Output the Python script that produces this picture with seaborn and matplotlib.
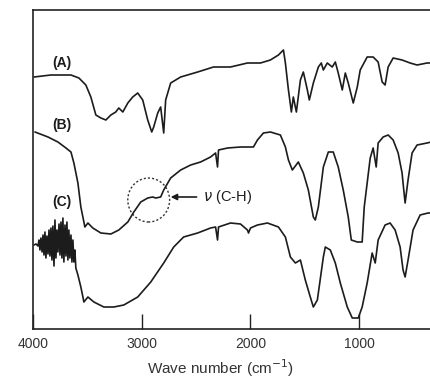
import numpy as np
import pandas as pd
import matplotlib
matplotlib.use("Agg")
import matplotlib.pyplot as plt
from matplotlib.patches import Ellipse
import seaborn as sns

# wave numbers (cm-1) and relative transmittance
wn_a = [3991, 3835, 3651, 3578, 3514, 3468, 3422, 3376, 3330, 3284,
        3239, 3211, 3174, 3128, 3083, 3037, 2991, 2945, 2908, 2890,
        2853, 2826, 2798, 2780, 2734, 2642, 2486, 2340, 2184, 2028,
        1908, 1817, 1743, 1697, 1679, 1651, 1624, 1606, 1578, 1541,
        1514, 1477, 1459, 1422, 1376, 1349, 1330, 1294, 1248, 1220,
        1193, 1156, 1128, 1101, 1055, 1018, 991, 927, 872, 826,
        789, 762, 734, 688, 606, 532, 468, 376, 340]
t_a = [252, 254, 254, 251, 244, 232, 214, 211, 209, 214,
       217, 221, 217, 226, 232, 236, 229, 209, 197, 202,
       216, 222, 196, 229, 246, 252, 257, 262, 262, 266,
       266, 269, 274, 279, 266, 239, 217, 232, 217, 249,
       257, 239, 229, 246, 262, 266, 259, 266, 262, 267,
       256, 239, 256, 246, 226, 242, 259, 272, 272, 267,
       247, 244, 262, 271, 269, 266, 264, 266, 266]

wn_b = [3982, 3862, 3771, 3697, 3651, 3624, 3587, 3560, 3532, 3523,
        3495, 3450, 3376, 3284, 3211, 3128, 3073, 3009, 2945, 2899,
        2872, 2826, 2798, 2734, 2642, 2550, 2459, 2367, 2321, 2303,
        2294, 2211, 2092, 1973, 1936, 1881, 1817, 1725, 1679, 1651,
        1615, 1560, 1514, 1468, 1422, 1404, 1376, 1330, 1284, 1239,
        1193, 1147, 1101, 1073, 1018, 973, 954, 927, 899, 872,
        844, 826, 780, 734, 688, 642, 606, 597, 578, 551,
        514, 468, 376, 340]
t_b = [197, 192, 187, 181, 177, 166, 146, 122, 107, 102,
       106, 101, 96, 95, 99, 107, 117, 127, 131, 132,
       131, 132, 139, 151, 159, 164, 167, 172, 176, 162,
       179, 181, 182, 182, 189, 196, 197, 194, 182, 169,
       159, 167, 156, 139, 112, 109, 122, 162, 177, 177,
       162, 139, 112, 89, 87, 87, 122, 146, 171, 181,
       162, 186, 192, 194, 189, 176, 156, 146, 126, 149,
       176, 184, 186, 187]

wn_c = [3991, 3972, 3954, 3945, 3936, 3927, 3917, 3908, 3899, 3890,
        3881, 3872, 3862, 3853, 3844, 3835, 3826, 3817, 3807, 3798,
        3789, 3780, 3771, 3761, 3752, 3743, 3734, 3725, 3716, 3706,
        3697, 3688, 3679, 3670, 3661, 3651, 3642, 3633, 3624, 3615,
        3606, 3587, 3560, 3541, 3532, 3495, 3440, 3349, 3257, 3165,
        3037, 2917, 2798, 2706, 2615, 2486, 2367, 2321, 2303, 2294,
        2184, 2092, 2028, 2018, 2000, 1936, 1844, 1743, 1679, 1633,
        1587, 1541, 1496, 1450, 1422, 1385, 1330, 1312, 1266, 1220,
        1174, 1110, 1064, 1009, 973, 927, 881, 853, 826, 762,
        716, 670, 624, 597, 578, 551, 505, 440, 367, 340]
t_c = [84, 85, 83, 89, 79, 91, 77, 94, 74, 97,
       71, 93, 75, 99, 73, 101, 69, 103, 63, 109,
       71, 99, 77, 105, 74, 107, 71, 111, 67, 104,
       73, 107, 69, 99, 71, 94, 67, 89, 67, 79,
       61, 54, 42, 32, 27, 32, 27, 22, 22, 24,
       32, 47, 66, 82, 92, 96, 101, 102, 89, 102,
       106, 105, 99, 96, 101, 104, 106, 102, 92, 72,
       66, 69, 49, 32, 22, 29, 72, 82, 79, 66,
       46, 22, 11, 11, 22, 46, 76, 66, 89, 104,
       106, 99, 82, 59, 52, 69, 99, 114, 116, 116]

labels = ["(A)", "(B)", "(C)"]
label_pos = [(3734, 266), (3734, 204), (3734, 127)]
ticks = [4000, 3000, 2000, 1000]

df = pd.concat([
    pd.DataFrame({"wn": wn_a, "t": t_a, "s": "A"}),
    pd.DataFrame({"wn": wn_b, "t": t_b, "s": "B"}),
    pd.DataFrame({"wn": wn_c, "t": t_c, "s": "C"}),
])

sns.set_theme(style="white")
plt.rcParams["font.family"] = ["Liberation Sans", "DejaVu Sans"]

fig = plt.figure(figsize=(4.31, 3.79), dpi=100)
ax = fig.add_axes([33 / 431, 50 / 379, 398 / 431, 319 / 379])

sns.lineplot(data=df, x="wn", y="t", units="s", estimator=None, sort=False,
             color="#1c1c1c", linewidth=1.2, ax=ax)

ax.set_xlim(4000, 340)
ax.set_ylim(0, 319)
ax.set_xticks(ticks)
ax.set_xticklabels([str(t) for t in ticks])
ax.set_yticks([])
ax.set_ylabel("")
ax.tick_params(axis="x", direction="in", length=11, width=1.0, color="#222222",
               labelsize=10, labelcolor="#333333", pad=6, bottom=True)
for side in ["left", "bottom", "top"]:
    ax.spines[side].set_color("#222222")
    ax.spines[side].set_linewidth(1.2)
ax.spines["right"].set_visible(False)

ax.set_xlabel("Wave number (cm$^{-1}$)", fontsize=11, color="#333333")
ax.xaxis.set_label_coords(0.47, -0.09)

for lab, (x, y) in zip(labels, label_pos):
    ax.text(x, y, lab, fontsize=10, fontweight="bold", ha="center", va="center",
            color="#1c1c1c")

# dashed circle around the C-H shoulder
ax.add_patch(Ellipse((2936, 129), 385, 44, fill=False, linestyle=(0, (1.5, 1.5)),
                     linewidth=1.0, edgecolor="#333333"))
ax.annotate("$\\nu$ (C-H)", xy=(2734, 132), xytext=(2440, 132),
            fontsize=10.5, va="center", ha="left", color="#1c1c1c",
            arrowprops=dict(arrowstyle="-|>", color="#1c1c1c", lw=1.2,
                            shrinkA=2, shrinkB=0, mutation_scale=9))

fig.savefig("out.png", dpi=100, facecolor="white")
